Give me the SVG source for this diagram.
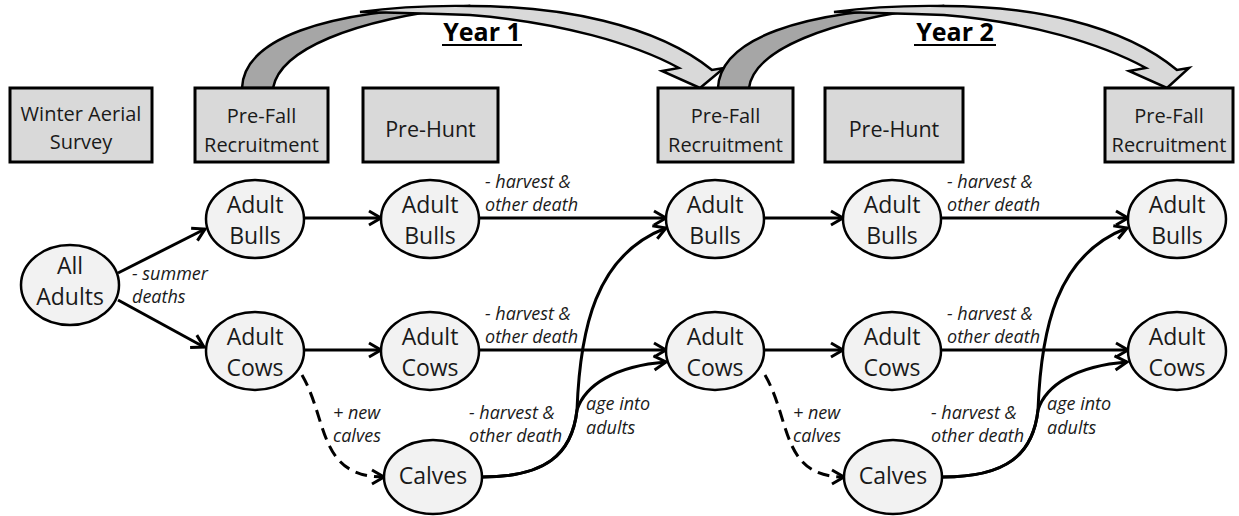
<svg xmlns="http://www.w3.org/2000/svg" width="1239" height="516" viewBox="0 0 1239 516">
<style>
.box{fill:#d9d9d9;stroke:#000;stroke-width:3}
.node{fill:#f2f2f2;stroke:#000;stroke-width:2.5}
.t{font-family:"Open Sans","Liberation Sans",sans-serif;fill:#1a1a1a;text-anchor:middle}
.bt{font-size:20px}
.ht{font-size:21.5px}
.nt{font-size:23px}
.lbl{font-family:"Open Sans","Liberation Sans",sans-serif;fill:#1a1a1a;font-size:18px;font-style:italic}
.yr{font-family:"Open Sans","Liberation Sans",sans-serif;font-weight:bold;font-size:25px;fill:#000;text-anchor:middle}
.edge{fill:none;stroke:#000;stroke-width:3;marker-end:url(#arr)}
.dash{stroke-dasharray:12 7}
.dark{fill:#a6a6a6;stroke:#000;stroke-width:2.5;stroke-linejoin:round}
.light{fill:#d9d9d9;stroke:#000;stroke-width:2.5;stroke-linejoin:miter}
</style>
<defs>
<marker id="arr" viewBox="-16 -10 20 20" markerWidth="20" markerHeight="20" refX="0" refY="0" orient="auto" markerUnits="userSpaceOnUse">
<path d="M-12,-7 L0,0 L-12,7" fill="none" stroke="#000" stroke-width="3"/>
</marker>
</defs>

<g id="year-arrows">
<path class="dark" d="M242,88 C244,40 320,10 470,6 C350,20 280,50 273,88 Z"/>
<path class="light" d="M360,12 Q410,5 470,6 C560,6 655,24 712,70 L724,68 L700,88 L662,71 L679,68 C635,44 560,22 470,15 Q410,13 360,12 Z"/>
<path class="dark" d="M718,88 C720,40 796,10 944,6 C826,20 754,50 749,88 Z"/>
<path class="light" d="M834,12 Q884,5 944,6 C1030,6 1122,24 1177,70 L1189,68 L1167,88 L1129,71 L1146,68 C1102,44 1030,22 944,15 Q884,13 834,12 Z"/>
</g>

<g id="year-labels">
<text class="yr" x="482" y="41">Year 1</text>
<line x1="442" y1="45" x2="522" y2="45" stroke="#000" stroke-width="2"/>
<text class="yr" x="955" y="41">Year 2</text>
<line x1="914" y1="45" x2="996" y2="45" stroke="#000" stroke-width="2"/>
</g>

<g id="box-winter"><rect class="box" x="10" y="88" width="142" height="74"/><text class="t bt" x="81" y="121">Winter Aerial</text><text class="t bt" x="81" y="149">Survey</text></g>
<g id="box-prefall-1"><rect class="box" x="195" y="88" width="133" height="74"/><text class="t bt" x="261.5" y="123">Pre-Fall</text><text class="t bt" x="261.5" y="152">Recruitment</text></g>
<g id="box-prehunt-1"><rect class="box" x="363" y="88" width="135" height="74"/><text class="t ht" x="430.5" y="137">Pre-Hunt</text></g>
<g id="box-prefall-2"><rect class="box" x="658" y="88" width="135" height="74"/><text class="t bt" x="725.5" y="123">Pre-Fall</text><text class="t bt" x="725.5" y="152">Recruitment</text></g>
<g id="box-prehunt-2"><rect class="box" x="825" y="88" width="138" height="74"/><text class="t ht" x="894" y="137">Pre-Hunt</text></g>
<g id="box-prefall-3"><rect class="box" x="1105" y="88" width="128" height="74"/><text class="t bt" x="1169" y="123">Pre-Fall</text><text class="t bt" x="1169" y="152">Recruitment</text></g>

<g id="connectors">
<path class="edge" d="M118,273 L205,229"/>
<path class="edge" d="M118,300 L204,347"/>
<path class="edge" d="M304,218 L381,218"/>
<path class="edge" d="M304,350 L381,350"/>
<path class="edge" d="M479,218 L666,218"/>
<path class="edge" d="M479,350 L666,350"/>
<path class="edge" d="M764,218 L843,218"/>
<path class="edge" d="M764,350 L843,350"/>
<path class="edge" d="M941,218 L1128,218"/>
<path class="edge" d="M941,350 L1128,350"/>
<path class="edge dash" d="M302,375 C328,420 318,477 384,477"/>
<path class="edge dash" d="M765,375 C791,420 781,477 844,477"/>
<path class="edge" d="M482,477 C545,477 572,455 577,410 C580,330 595,255 666,228"/>
<path class="edge" d="M482,477 C545,477 572,455 577,410 C585,385 615,366 666,362"/>
<path class="edge" d="M943,477 C1006,477 1033,455 1038,410 C1041,330 1056,255 1127,228"/>
<path class="edge" d="M943,477 C1006,477 1033,455 1038,410 C1046,385 1076,366 1127,362"/>
</g>

<g id="edge-labels">
<text class="lbl" x="132" y="280">- summer</text>
<text class="lbl" x="132" y="303">deaths</text>
<text class="lbl" x="485" y="188">- harvest &amp;</text>
<text class="lbl" x="485" y="211">other death</text>
<text class="lbl" x="485" y="320">- harvest &amp;</text>
<text class="lbl" x="485" y="343">other death</text>
<text class="lbl" x="333" y="419">+ new</text>
<text class="lbl" x="333" y="442">calves</text>
<text class="lbl" x="469" y="419">- harvest &amp;</text>
<text class="lbl" x="469" y="442">other death</text>
<text class="lbl" x="586" y="410">age into</text>
<text class="lbl" x="586" y="434">adults</text>
<text class="lbl" x="947" y="188">- harvest &amp;</text>
<text class="lbl" x="947" y="211">other death</text>
<text class="lbl" x="947" y="320">- harvest &amp;</text>
<text class="lbl" x="947" y="343">other death</text>
<text class="lbl" x="793" y="419">+ new</text>
<text class="lbl" x="793" y="442">calves</text>
<text class="lbl" x="931" y="419">- harvest &amp;</text>
<text class="lbl" x="931" y="442">other death</text>
<text class="lbl" x="1047" y="410">age into</text>
<text class="lbl" x="1047" y="434">adults</text>
</g>

<g id="node-all-adults"><ellipse class="node" cx="70" cy="285" rx="49" ry="40"/><text class="t nt" x="70" y="274">All</text><text class="t nt" x="70" y="305">Adults</text></g>
<g id="node-bulls-1"><ellipse class="node" cx="255" cy="219" rx="49" ry="39"/><text class="t nt" x="255" y="213">Adult</text><text class="t nt" x="255" y="244">Bulls</text></g>
<g id="node-cows-1"><ellipse class="node" cx="255" cy="351" rx="49" ry="39"/><text class="t nt" x="255" y="345">Adult</text><text class="t nt" x="255" y="376">Cows</text></g>
<g id="node-bulls-2"><ellipse class="node" cx="430" cy="219" rx="49" ry="39"/><text class="t nt" x="430" y="213">Adult</text><text class="t nt" x="430" y="244">Bulls</text></g>
<g id="node-cows-2"><ellipse class="node" cx="430" cy="351" rx="49" ry="39"/><text class="t nt" x="430" y="345">Adult</text><text class="t nt" x="430" y="376">Cows</text></g>
<g id="node-calves-1"><ellipse class="node" cx="433" cy="477" rx="49" ry="37"/><text class="t nt" x="433" y="484">Calves</text></g>
<g id="node-bulls-3"><ellipse class="node" cx="715" cy="219" rx="49" ry="39"/><text class="t nt" x="715" y="213">Adult</text><text class="t nt" x="715" y="244">Bulls</text></g>
<g id="node-cows-3"><ellipse class="node" cx="715" cy="351" rx="49" ry="39"/><text class="t nt" x="715" y="345">Adult</text><text class="t nt" x="715" y="376">Cows</text></g>
<g id="node-bulls-4"><ellipse class="node" cx="892" cy="219" rx="49" ry="39"/><text class="t nt" x="892" y="213">Adult</text><text class="t nt" x="892" y="244">Bulls</text></g>
<g id="node-cows-4"><ellipse class="node" cx="892" cy="351" rx="49" ry="39"/><text class="t nt" x="892" y="345">Adult</text><text class="t nt" x="892" y="376">Cows</text></g>
<g id="node-calves-2"><ellipse class="node" cx="893" cy="477" rx="49" ry="37"/><text class="t nt" x="893" y="484">Calves</text></g>
<g id="node-bulls-5"><ellipse class="node" cx="1177" cy="219" rx="49" ry="39"/><text class="t nt" x="1177" y="213">Adult</text><text class="t nt" x="1177" y="244">Bulls</text></g>
<g id="node-cows-5"><ellipse class="node" cx="1177" cy="351" rx="49" ry="39"/><text class="t nt" x="1177" y="345">Adult</text><text class="t nt" x="1177" y="376">Cows</text></g>
</svg>
